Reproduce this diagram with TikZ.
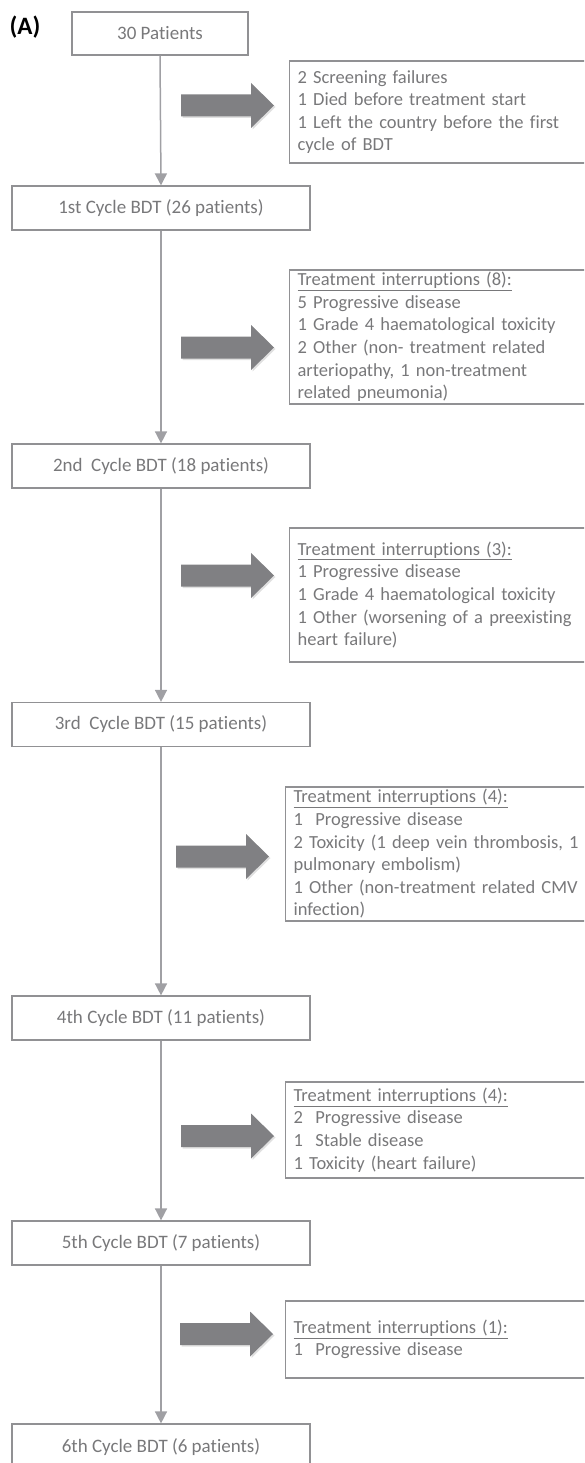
\documentclass[tikz,border=0pt]{standalone}
\usepackage{fontspec}
\setmainfont{Carlito}[Ligatures={NoCommon}]
\usetikzlibrary{arrows.meta}
\definecolor{txtgray}{RGB}{120,120,122}
\definecolor{boxgray}{RGB}{145,145,148}
\definecolor{linegray}{RGB}{160,160,164}
\definecolor{arrowgray}{RGB}{128,128,131}
\tikzset{
  stage/.style={draw=boxgray, line width=1.2pt, minimum width=298pt, minimum height=44pt,
    inner sep=0pt, text=txtgray, font=\fontsize{19}{22.6}\selectfont},
  infobox/.style={draw=boxgray, line width=1.2pt, anchor=west, minimum width=320pt,
    text width=304pt, inner xsep=8pt, inner ysep=0pt, align=left, text=txtgray,
    font=\fontsize{18.5}{22.6}\selectfont},
  flow/.style={draw=linegray, line width=1.5pt, -{Triangle[width=12pt,length=12pt]}},
  blockarrow/.pic={
    \fill[black, opacity=0.12] (1.5,-9.5) -- (71.5,-9.5) -- (71.5,-21) -- (94.5,1.5) -- (71.5,24) -- (71.5,12.5) -- (1.5,12.5) -- cycle;
    \fill[arrowgray] (0,-11) -- (70,-11) -- (70,-22.5) -- (93,0) -- (70,22.5) -- (70,11) -- (0,11) -- cycle;
  }
}
\begin{document}
\begin{tikzpicture}[x=1pt,y=-1pt]
\useasboundingbox (0,0) rectangle (584,1463);
\clip (0,0) rectangle (584,1463);

\node[font=\fontsize{25}{27}\bfseries\selectfont, text=black] (lab) at (25,27) {(A)};

% main flow
\node[stage, minimum width=176pt, minimum height=43pt] (b0) at (160,33.5) {30 Patients};
\node[stage] (b1) at (161,208) {1st Cycle BDT (26 patients)};
\node[stage] (b2) at (161,466) {2nd\ \ Cycle BDT (18 patients)};
\node[stage] (b3) at (161,724.5) {3rd\ \ Cycle BDT (15 patients)};
\node[stage] (b4) at (161,1018) {4th Cycle BDT (11 patients)};
\node[stage] (b5) at (161,1243) {5th Cycle BDT (7 patients)};
\node[stage, minimum height=46pt] (b6) at (161,1447) {6th Cycle BDT (6 patients)};

\draw[flow] (b0.south) -- (b1.north);
\draw[flow] (b1.south) -- (b2.north);
\draw[flow] (b2.south) -- (b3.north);
\draw[flow] (b3.south) -- (b4.north);
\draw[flow] (b4.south) -- (b5.north);
\draw[flow] (b5.south) -- (b6.north);

% side boxes
\node[infobox, minimum height=102pt] (r1) at (289,112) {2 Screening failures\\1 Died before treatment start\\1 Left the country before the first\\cycle of BDT};
\node[infobox, minimum height=134pt] (r2) at (289,337) {\underline{Treatment interruptions (8):}\\5 Progressive disease\\1 Grade 4 haematological toxicity\\2 Other (non- treatment related\\arteriopathy, 1 non-treatment\\related pneumonia)};
\node[infobox, minimum height=134pt] (r3) at (289,595) {\underline{Treatment interruptions (3):}\\1 Progressive disease\\1 Grade 4 haematological toxicity\\1 Other (worsening of a preexisting\\heart failure)};
\node[infobox, minimum height=134pt] (r4) at (285,854) {\underline{Treatment interruptions (4):}\\1\ \ Progressive disease\\2 Toxicity (1 deep vein thrombosis, 1\\pulmonary embolism)\\1 Other (non-treatment related CMV\\infection)};
\node[infobox, minimum height=96pt] (r5) at (285,1130) {\underline{Treatment interruptions (4):}\\2\ \ Progressive disease\\1\ \ Stable disease\\1 Toxicity (heart failure)};
\node[infobox, minimum height=77pt] (r6) at (285,1339.5) {\underline{Treatment interruptions (1):}\\1\ \ Progressive disease};

% block arrows
\pic at (181,105.5) {blockarrow};
\pic at (181,347.5) {blockarrow};
\pic at (181,575.5) {blockarrow};
\pic at (176,856.5) {blockarrow};
\pic at (181,1136) {blockarrow};
\pic at (180,1334) {blockarrow};
\end{tikzpicture}
\end{document}
